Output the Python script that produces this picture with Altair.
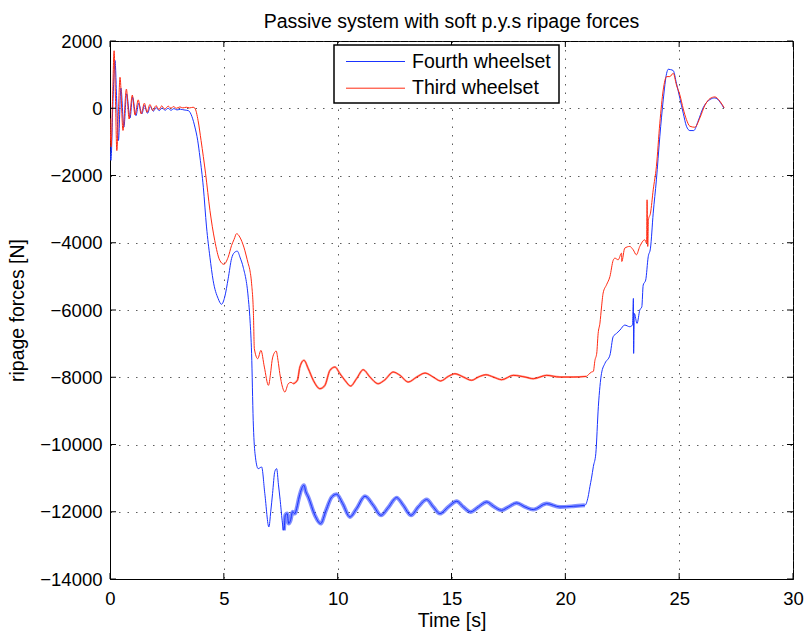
import altair as alt
import pandas as pd

# ---------------- data ----------------
series_names = ["Fourth wheelset", "Third wheelset"]
series_colors = ["#1a33ff", "#ff2a12"]

t_fourth = [0.00, 0.04, 0.13, 0.22, 0.30, 0.37, 0.48, 0.61, 0.73, 0.88, 0.99, 1.14, 1.26, 1.40,
            1.51, 1.65, 1.77, 1.90, 2.03, 2.16, 2.29, 2.42, 2.55, 2.68, 2.81, 2.94, 3.10, 3.25,
            3.44, 3.60, 3.73, 3.85, 3.95, 4.10, 4.24, 4.39, 4.53, 4.75, 4.90, 5.04, 5.19, 5.34,
            5.45, 5.59, 5.72, 5.85, 6.07, 6.15, 6.22, 6.29, 6.37, 6.51, 6.66, 6.80, 6.98, 7.06,
            7.14, 7.24, 7.32, 7.40, 7.46, 7.64, 7.70, 7.78, 7.85, 7.93, 8.02, 8.12, 8.20, 8.31,
            8.52, 8.60, 8.71, 9.00, 9.25, 9.49, 9.74, 9.95, 10.22, 10.54, 10.83, 11.20, 11.56,
            11.90, 12.22, 12.59, 12.88, 13.22, 13.54, 13.91, 14.20, 14.49, 14.86, 15.23, 15.52,
            15.84, 16.18, 16.55, 16.84, 17.20, 17.50, 17.86, 18.23, 18.59, 19.18, 19.76, 20.35,
            20.86, 21.00, 21.08, 21.15, 21.23, 21.34, 21.45, 21.59, 21.74, 21.96, 22.10, 22.25,
            22.40, 22.61, 22.83, 22.95, 22.99, 23.00, 23.03, 23.15, 23.27, 23.36, 23.42, 23.53,
            23.64, 23.74, 23.86, 24.00, 24.15, 24.30, 24.45, 24.52, 24.62, 24.74, 24.88, 25.03,
            25.18, 25.32, 25.47, 25.64, 25.83, 26.05, 26.35, 26.57, 26.79, 26.96]
f_fourth = [-1100, -1550, 200, 1420, 100, -960, 600, -560, 430, -290, 330, -220, 150, -170,
            80, -150, 50, -90, 20, -70, 10, -60, 0, -60, -10, -50, -30, -50,
            -70, -250, -560, -950, -1450, -2350, -3530, -4430, -5120, -5660, -5830, -5610, -5070, -4470,
            -4300, -4250, -4450, -4725, -5617, -6300, -7300, -9282, -10272, -10718, -10669, -11460, -12452, -12000,
            -11460, -10800, -10718, -11200, -11560, -12551, -12100, -12055, -12350, -12253, -12000, -12055, -11900, -11560,
            -11213, -11400, -11560, -12105, -12352, -11956, -11560, -11480, -11758, -12154, -11906, -11540, -11807,
            -12105, -11877, -11580, -11807, -12105, -11857, -11639, -11857, -12055, -11857, -11689, -11857,
            -12005, -11857, -11708, -11837, -11956, -11857, -11738, -11857, -11936, -11758, -11857, -11837,
            -11807, -11560, -11252, -11000, -10658, -10262, -8875, -7884, -7587, -7340, -6795, -6695,
            -6596, -6448, -6497, -6448, -5656, -7291, -6101, -6398, -6002, -5903, -5259, -5110,
            -4417, -4160, -3120, -2130, -842, 248, 1040, 1159, 1150, 1119, 743, 297,
            -149, -535, -664, -664, -386, 10, 258, 307, 188, 10]

t_third = [0.00, 0.05, 0.11, 0.18, 0.24, 0.30, 0.37, 0.44, 0.57, 0.72, 0.84, 0.98, 1.10, 1.24,
           1.37, 1.51, 1.63, 1.75, 1.89, 2.02, 2.15, 2.27, 2.40, 2.56, 2.68, 2.78, 2.92, 3.07,
           3.20, 3.35, 3.50, 3.65, 3.73, 3.87, 4.00, 4.20, 4.39, 4.60, 4.82, 5.00, 5.19, 5.34,
           5.45, 5.56, 5.70, 5.88, 6.07, 6.14, 6.22, 6.30, 6.34, 6.49, 6.63, 6.78, 6.96, 7.05,
           7.12, 7.20, 7.30, 7.38, 7.46, 7.58, 7.68, 7.83, 7.95, 8.05, 8.23, 8.34, 8.52, 8.71,
           8.93, 9.22, 9.44, 9.66, 9.88, 10.10, 10.32, 10.57, 10.83, 11.12, 11.42, 11.78, 12.08,
           12.44, 12.74, 13.10, 13.47, 13.84, 14.20, 14.52, 14.86, 15.15, 15.52, 15.88, 16.18,
           16.51, 16.84, 17.20, 17.71, 18.23, 18.59, 19.18, 19.76, 20.35, 20.93, 21.01, 21.15,
           21.23, 21.30, 21.38, 21.44, 21.52, 21.59, 21.66, 21.81, 21.96, 22.10, 22.18, 22.32,
           22.47, 22.48, 22.61, 22.83, 22.98, 23.12, 23.27, 23.49, 23.57, 23.59, 23.62, 23.65,
           23.74, 23.86, 24.00, 24.15, 24.30, 24.45, 24.59, 24.74, 24.88, 25.03, 25.18, 25.32,
           25.47, 25.69, 25.91, 26.13, 26.35, 26.57, 26.79, 26.98]
f_third = [-300, -1150, 200, 1710, 300, -1260, -100, 920, -660, 570, -320, 390, -200, 250,
           -170, 150, -120, 110, -70, 80, -40, 70, -20, 60, 0, 50, 0, 40,
           10, 30, 10, 30, 0, -370, -960, -1950, -3040, -3930, -4520, -4640, -4430, -4080,
           -3900, -3730, -3830, -4130, -4620, -4800, -5219, -6110, -7150, -7448, -7200, -7697, -8241, -7900,
           -7498, -7300, -7222, -7500, -7894, -8300, -8440, -8192, -8150, -8192, -8092, -7697, -7498, -7746,
           -8092, -8340, -8241, -7796, -7697, -7894, -8092, -8261, -8043, -7776, -7994, -8192, -8073,
           -7845, -7944, -8142, -7994, -7875, -7994, -8112, -7974, -7894, -7994, -8092, -7994,
           -7925, -7994, -8073, -7944, -7994, -8043, -7944, -7994, -7994, -7974, -7925, -7845,
           -7826, -7498, -7281, -6705, -6390, -5912, -5498, -5250, -5002, -4525, -4458, -4507,
           -4309, -4557, -4160, -4110, -4209, -4358, -4110, -3912, -4011, -2723, -4110, -3318,
           -3120, -2427, -1733, -445, 545, 941, 941, 1040, 694, 397, -20, -337,
           -535, -565, -287, 89, 287, 337, 208, 10]

x_ticks = [0, 5, 10, 15, 20, 25, 30]
y_ticks = [-14000, -12000, -10000, -8000, -6000, -4000, -2000, 0, 2000]

# ---------------- layout constants ----------------
W, H = 683, 538
FONT = "Liberation Sans"

rows = []
for i, (t, f) in enumerate(zip(t_fourth, f_fourth)):
    rows.append({"t": t, "f": f, "series": series_names[0], "i": i})
for i, (t, f) in enumerate(zip(t_third, f_third)):
    rows.append({"t": t, "f": f, "series": series_names[1], "i": i})
df = pd.DataFrame(rows)

xscale = alt.Scale(domain=[0, 30], nice=False, zero=False)
yscale = alt.Scale(domain=[-14000, 2000], nice=False, zero=False)
cscale = alt.Scale(domain=series_names, range=series_colors)

base = alt.Chart(df).encode(
    x=alt.X("t:Q", scale=xscale,
            axis=alt.Axis(values=x_ticks, title="Time [s]", grid=True, ticks=False,
                          labelPadding=10, titlePadding=4, format="d", labelFlush=False)),
    y=alt.Y("f:Q", scale=yscale,
            axis=alt.Axis(values=y_ticks, title="ripage forces [N]", grid=True, ticks=False,
                          labelPadding=8, titlePadding=12, format="d", labelFlush=False)),
    color=alt.Color("series:N", scale=cscale, legend=None),
    detail="series:N",
    order="i:Q",
)

lines = base.mark_line(strokeWidth=1, clip=True, interpolate="monotone")

# the steady-state stretch carries fine high-frequency ripple in the reference:
# show it as a wider, semi-transparent stroke along the same readings
ripple_blue = base.transform_filter(
    (alt.datum.series == series_names[0]) & (alt.datum.t >= 7.5) & (alt.datum.t <= 20.9)
).mark_line(strokeWidth=4, opacity=0.55, clip=True, interpolate="monotone")
ripple_red = base.transform_filter(
    (alt.datum.series == series_names[1]) & (alt.datum.t >= 8.0) & (alt.datum.t <= 21.0)
).mark_line(strokeWidth=2, opacity=0.5, clip=True, interpolate="monotone")

# inward ticks on all four sides (MATLAB style box)
xt = pd.DataFrame({"v": x_ticks})
yt = pd.DataFrame({"v": y_ticks})
tick_style = dict(color="black", strokeWidth=1)
xt_bottom = alt.Chart(xt).mark_rule(**tick_style).encode(
    x=alt.X("v:Q", scale=xscale), y=alt.value(H), y2=alt.value(H - 6))
xt_top = alt.Chart(xt).mark_rule(**tick_style).encode(
    x=alt.X("v:Q", scale=xscale), y=alt.value(0), y2=alt.value(6))
yt_left = alt.Chart(yt).mark_rule(**tick_style).encode(
    y=alt.Y("v:Q", scale=yscale), x=alt.value(0), x2=alt.value(6))
yt_right = alt.Chart(yt).mark_rule(**tick_style).encode(
    y=alt.Y("v:Q", scale=yscale), x=alt.value(W - 6), x2=alt.value(W))

# legend box (drawn by hand to get MATLAB-like long line samples)
leg_df = pd.DataFrame({"name": series_names, "color": series_colors})
LX0, LX1, LY0, LY1 = 224, 449, 4, 62
legend_box = alt.Chart(leg_df.head(1)).mark_rect(
    fill="white", stroke="black", strokeWidth=1.5).encode(
    x=alt.value(LX0), x2=alt.value(LX1), y=alt.value(LY0), y2=alt.value(LY1))

legend_layers = [legend_box]
for k, (name, col) in enumerate(zip(series_names, series_colors)):
    yy = 20.5 + k * 26.7
    one = leg_df.iloc[[k]]
    legend_layers.append(
        alt.Chart(one).mark_rule(color=col, strokeWidth=1).encode(
            x=alt.value(236), x2=alt.value(295), y=alt.value(yy)))
    legend_layers.append(
        alt.Chart(one).mark_text(align="left", baseline="middle", font=FONT,
                                 fontSize=19.5, color="black").encode(
            text="name:N", x=alt.value(302), y=alt.value(yy)))

chart = alt.layer(ripple_blue, ripple_red, lines, xt_bottom, xt_top, yt_left, yt_right,
                  *legend_layers).properties(
    width=W, height=H,
    background="white",
    title=alt.TitleParams("Passive system with soft p.y.s ripage forces", font=FONT,
                          fontSize=19.5, fontWeight="normal", color="black",
                          anchor="middle", baseline="alphabetic", frame="group",
                          offset=0, dy=15),
    autosize=alt.AutoSizeParams(type="none"),
    padding={"left": 110, "top": 41, "right": 15, "bottom": 58},
).configure_view(
    stroke="black", strokeWidth=1
).configure_axis(
    labelFont=FONT, labelFontSize=18.5, labelColor="black",
    titleFont=FONT, titleFontSize=19.5, titleFontWeight="normal", titleColor="black",
    domainColor="black", domainWidth=1,
    gridColor="#333333", gridDash=[1.5, 7], gridWidth=1, gridOpacity=0.8,
)

chart.save("out.html", embed_options={"renderer": "svg", "actions": False})
